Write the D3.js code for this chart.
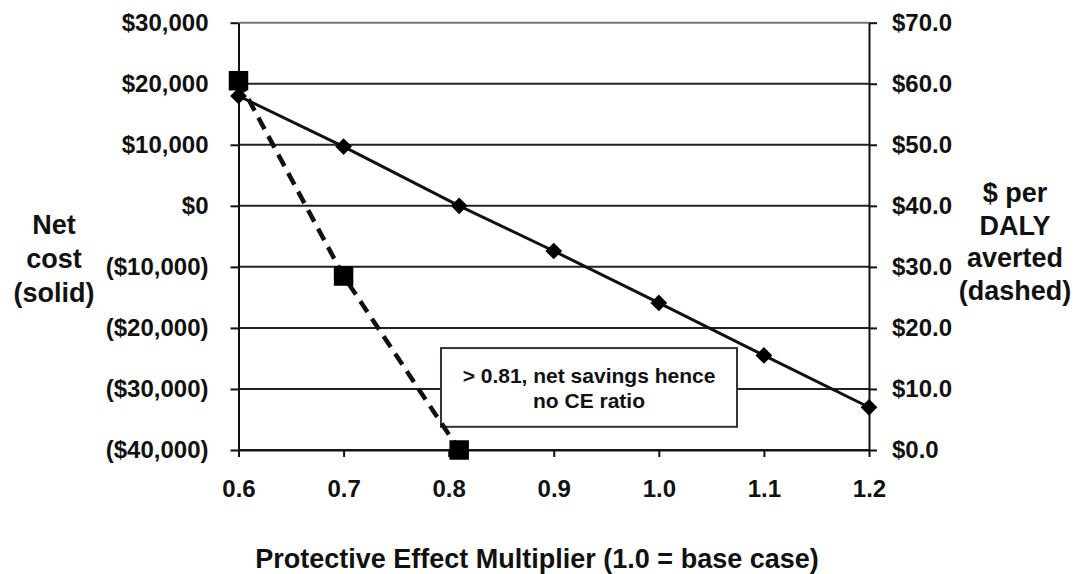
<!DOCTYPE html>
<html>
<head>
<meta charset="utf-8">
<script src="https://cdn.jsdelivr.net/npm/d3@7"></script>
<style>
html,body{margin:0;padding:0;background:#fff}
svg{display:block}
text{font-family:"Liberation Sans",Arial,sans-serif;font-weight:bold;fill:#111}
</style>
</head>
<body>
<div id="chart"></div>
<script>
// data
const multipliers=[0.6,0.7,0.81,0.9,1.0,1.1,1.2];
const netCost=[18000,9700,0,-7400,-15900,-24500,-33000];
const dalyX=[0.6,0.7,0.81];
const perDaly=[60.5,28.5,0];
const xTicks=[0.6,0.7,0.8,0.9,1.0,1.1,1.2];
const leftTicks=[30000,20000,10000,0,-10000,-20000,-30000,-40000];
const rightTicks=[70,60,50,40,30,20,10,0];
const noteLines=["> 0.81, net savings hence","no CE ratio"];
const noteBox={x0:0.7927,x1:1.0744,y0:-23300,y1:-36200};

const W=1076,H=574;
const L=238.5,R=869,T=22.7,B=450;

const svg=d3.select("#chart").append("svg").attr("width",W).attr("height",H);

const x=d3.scaleLinear().domain([0.6,1.2]).range([L,R]);
const yL=d3.scaleLinear().domain([-40000,30000]).range([B,T]);
const yR=d3.scaleLinear().domain([0,70]).range([B,T]);

const fmtK=d3.format(",");
const leftFmt=d=>d<0?"($"+fmtK(-d)+")":"$"+fmtK(d);
const rightFmt=d=>"$"+d.toFixed(1);

// gridlines
svg.append("g").selectAll("line").data(leftTicks).enter().append("line")
  .attr("x1",L).attr("x2",R)
  .attr("y1",d=>yL(d)).attr("y2",d=>yL(d))
  .attr("stroke",d=>d===30000?"#777":"#222").attr("stroke-width",2);

// axes
function styleAxis(g){
  g.select(".domain").attr("stroke","#111").attr("stroke-width",2);
  g.selectAll(".tick line").attr("stroke","#111").attr("stroke-width",2);
  g.selectAll("text").attr("font-size","24px").attr("fill","#111");
}
svg.append("g").attr("transform","translate("+L+",0)")
  .call(d3.axisLeft(yL).tickValues(leftTicks).tickFormat(leftFmt).tickSize(8).tickPadding(22).tickSizeOuter(0))
  .call(styleAxis);
svg.append("g").attr("transform","translate("+R+",0)")
  .call(d3.axisRight(yR).tickValues(rightTicks).tickFormat(rightFmt).tickSize(8).tickPadding(15).tickSizeOuter(0))
  .call(styleAxis);
svg.append("g").attr("transform","translate(0,"+B+")")
  .call(d3.axisBottom(x).tickValues(xTicks).tickFormat(d3.format(".1f")).tickSize(7).tickPadding(23).tickSizeOuter(0))
  .call(styleAxis);

svg.selectAll("g.tick text").attr("font-family","Liberation Sans, Arial, sans-serif").attr("font-weight","bold");

// annotation box
const note=svg.append("g");
note.append("rect")
  .attr("x",x(noteBox.x0)).attr("y",yL(noteBox.y0))
  .attr("width",x(noteBox.x1)-x(noteBox.x0))
  .attr("height",yL(noteBox.y1)-yL(noteBox.y0))
  .attr("fill","#fff").attr("stroke","#333").attr("stroke-width",2);
note.selectAll("text").data(noteLines).enter().append("text")
  .attr("x",(x(noteBox.x0)+x(noteBox.x1))/2)
  .attr("y",(d,i)=>yL(noteBox.y0)+35+i*25)
  .attr("text-anchor","middle").attr("font-size","21px")
  .text(d=>d);

// solid: net cost
const solidPts=multipliers.map((m,i)=>[m,netCost[i]]);
svg.append("path").datum(solidPts)
  .attr("fill","none").attr("stroke","#111").attr("stroke-width",3)
  .attr("d",d3.line().x(d=>x(d[0])).y(d=>yL(d[1])));
svg.append("g").selectAll("path").data(solidPts).enter().append("path")
  .attr("d",d3.symbol(d3.symbolSquare,140))
  .attr("transform",d=>"translate("+x(d[0])+","+yL(d[1])+") rotate(45)")
  .attr("fill","#000");

// dashed: $ per DALY averted
const dashPts=dalyX.map((m,i)=>[m,perDaly[i]]);
svg.append("path").datum(dashPts)
  .attr("fill","none").attr("stroke","#111").attr("stroke-width",4.5)
  .attr("stroke-dasharray","13,8")
  .attr("d",d3.line().x(d=>x(d[0])).y(d=>yR(d[1])));
svg.append("g").selectAll("path").data(dashPts).enter().append("path")
  .attr("d",d3.symbol(d3.symbolSquare,380))
  .attr("transform",d=>"translate("+x(d[0])+","+yR(d[1])+")")
  .attr("fill","#000");

// axis titles
const leftTitle=["Net","cost","(solid)"];
svg.append("g").selectAll("text").data(leftTitle).enter().append("text")
  .attr("x",54).attr("y",(d,i)=>234+i*34)
  .attr("text-anchor","middle").attr("font-size","27px").text(d=>d);

const rightTitle=["$ per","DALY","averted","(dashed)"];
svg.append("g").selectAll("text").data(rightTitle).enter().append("text")
  .attr("x",1015).attr("y",(d,i)=>202+i*32.5)
  .attr("text-anchor","middle").attr("font-size","27px").text(d=>d);

svg.append("text").attr("x",537).attr("y",568)
  .attr("text-anchor","middle").attr("font-size","27px")
  .text("Protective Effect Multiplier (1.0 = base case)");
</script>
</body>
</html>
